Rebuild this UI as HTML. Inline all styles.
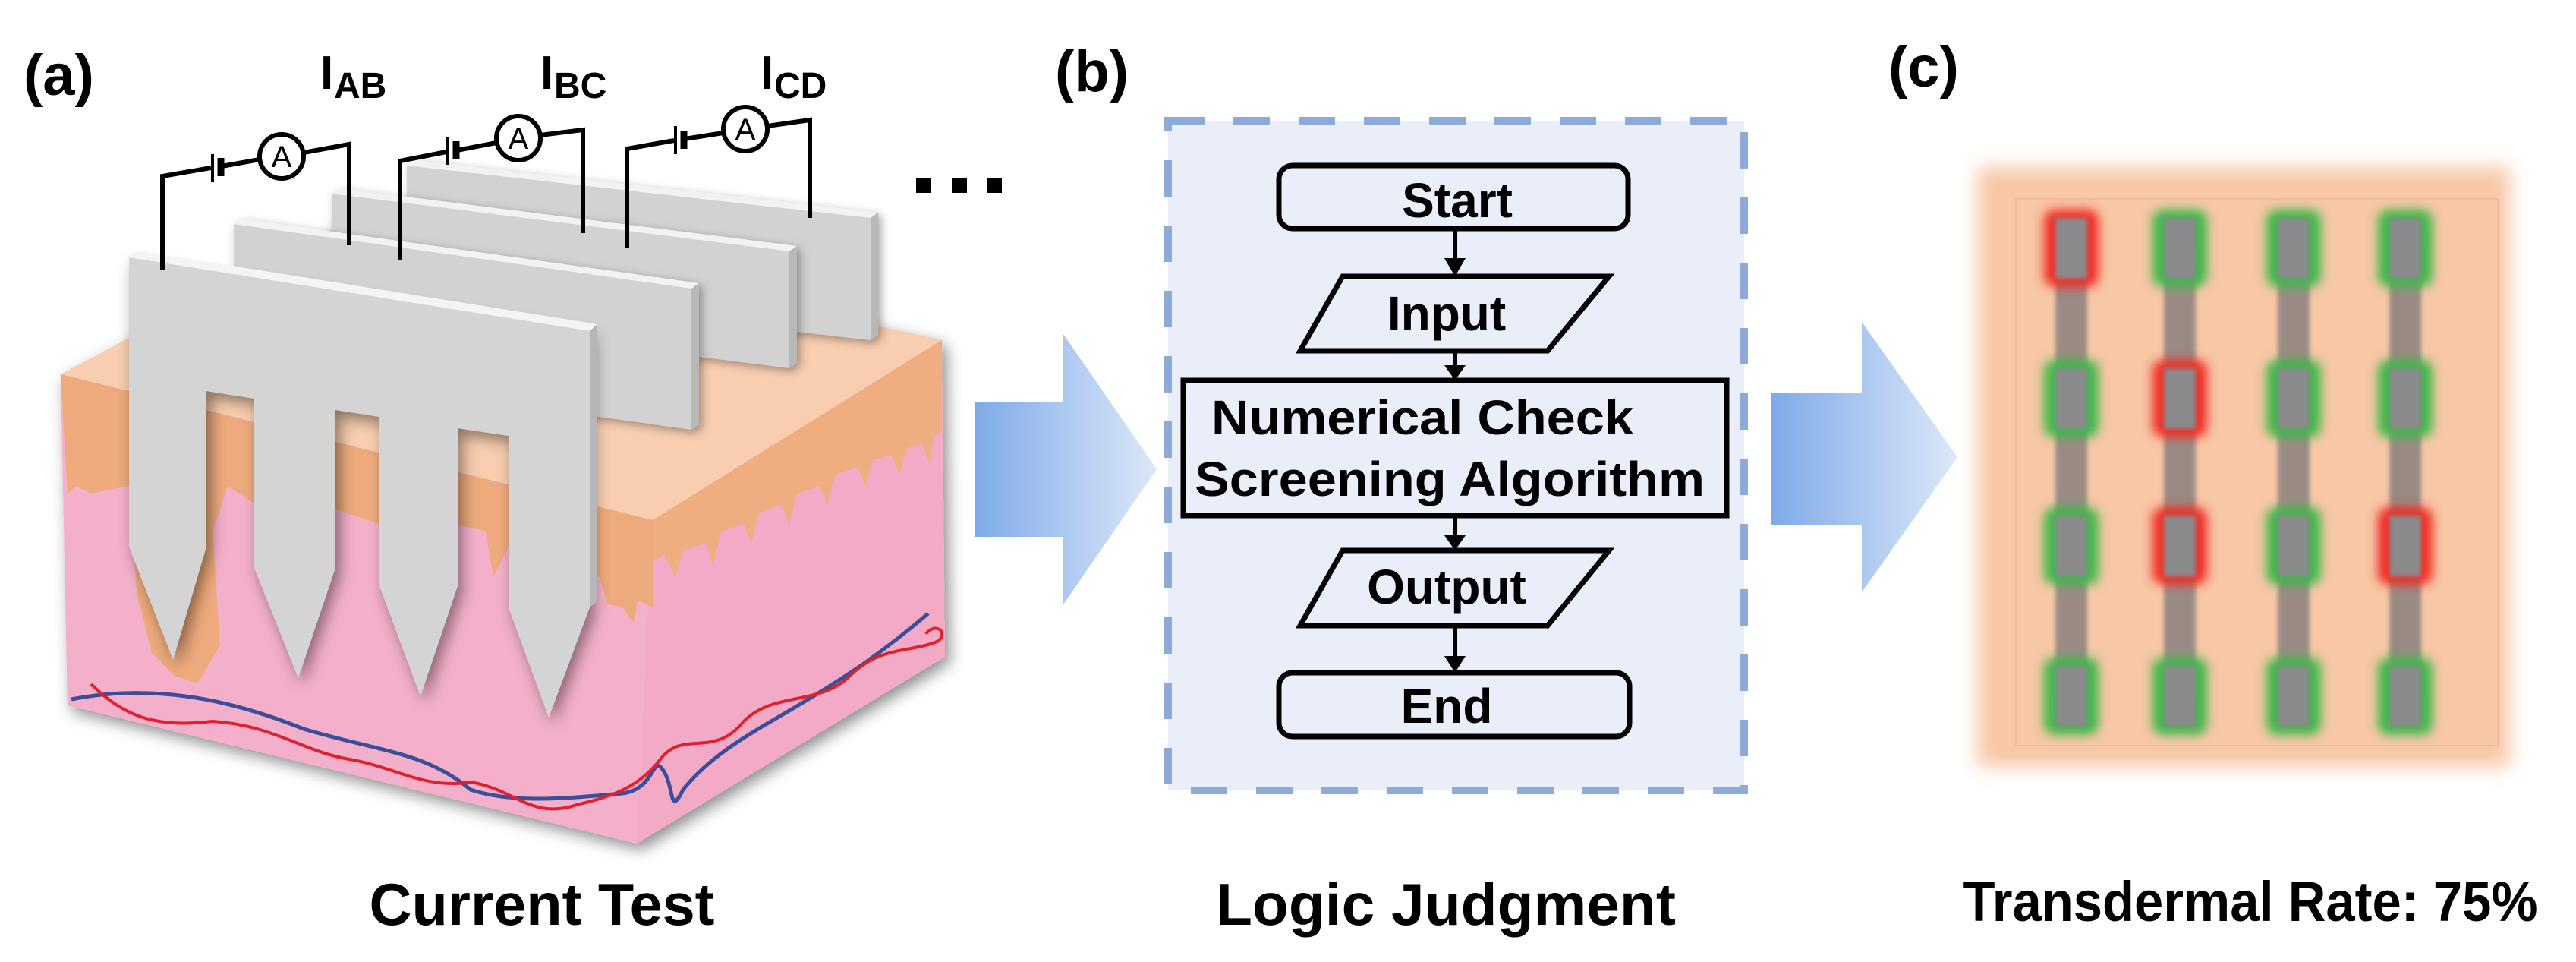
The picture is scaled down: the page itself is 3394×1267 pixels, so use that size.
<!DOCTYPE html>
<html><head><meta charset="utf-8"><style>
html,body{margin:0;padding:0;background:#fff;}
svg{display:block;}
text{font-family:"Liberation Sans",Arial,sans-serif;font-weight:bold;fill:#000;}
</style></head><body>
<svg width="3394" height="1267" viewBox="0 0 3394 1267" xmlns="http://www.w3.org/2000/svg">
<defs>
<filter id="sh" x="-20%" y="-20%" width="140%" height="140%"><feDropShadow dx="6" dy="8" stdDeviation="10" flood-color="#000" flood-opacity="0.45"/></filter>
<filter id="sh2" x="-20%" y="-20%" width="140%" height="140%"><feDropShadow dx="4" dy="4" stdDeviation="6" flood-color="#000" flood-opacity="0.35"/></filter>
<filter id="bl" x="-10%" y="-10%" width="120%" height="120%"><feGaussianBlur stdDeviation="12"/></filter>
<filter id="bl2" x="-50%" y="-50%" width="200%" height="200%"><feGaussianBlur stdDeviation="7"/></filter>
<filter id="bl3" x="-50%" y="-50%" width="200%" height="200%"><feGaussianBlur stdDeviation="3"/></filter>
<linearGradient id="ag" x1="0" x2="1" y1="0" y2="0"><stop offset="0" stop-color="#7eaae8"/><stop offset="1" stop-color="#dce8f8"/></linearGradient>
</defs>

<!-- Panel (a) -->
<text x="31" y="125" font-size="76">(a)</text>
<text x="422" y="117" font-size="62">I</text><text x="440" y="129" font-size="48">AB</text>
<text x="712" y="117" font-size="62">I</text><text x="730" y="129" font-size="48">BC</text>
<text x="1002" y="117" font-size="62">I</text><text x="1020" y="129" font-size="48">CD</text>
<rect x="1207" y="234" width="20" height="20" fill="#000"/>
<rect x="1254" y="234" width="20" height="20" fill="#000"/>
<rect x="1300" y="234" width="20" height="20" fill="#000"/>

<g filter="url(#sh)">
<polygon points="80,493 480,280 1241,448 1245,865 839,1111 89,929" fill="#f4b0cb"/>
</g>
<!-- top surface -->
<polygon points="80,493 480,280 1241,448 860,685" fill="#f8cdb0"/>
<!-- back plates -->
<g filter="url(#sh2)">
<polygon points="536,218 1147,287 1147,448 536,379" fill="#d2d2d2"/>
<polygon points="536,218 546,211 1157,280 1147,287" fill="#f2f2f2"/>
<polygon points="1147,287 1157,280 1157,441 1147,448" fill="#b8b8b8"/>
</g>
<g filter="url(#sh2)">
<polygon points="437,255 1040,331 1040,485 437,409" fill="#d2d2d2"/>
<polygon points="437,255 447,248 1050,324 1040,331" fill="#f2f2f2"/>
<polygon points="1040,331 1050,324 1050,478 1040,485" fill="#b8b8b8"/>
</g>
<g filter="url(#sh2)">
<polygon points="308,295 911,380 911,566 308,481" fill="#d2d2d2"/>
<polygon points="308,295 318,288 921,373 911,380" fill="#f2f2f2"/>
<polygon points="911,380 921,373 921,559 911,566" fill="#b8b8b8"/>
</g>
<!-- front face -->
<polygon points="80,493 860,685 839,1111 89,929" fill="#f4b0cb"/>
<!-- right face -->
<polygon points="860,685 1241,448 1245,865 839,1111" fill="#f2aac6"/>
<!-- orange on front face -->
<path d="M80,493 L860,685 L860,800 L840,790 L835,820 L820,800 L800,795 L790,760 L700,740 L670,720 L650,760 L640,700 L560,680 L520,700 L510,770 L500,690 L440,670 L420,720 L405,690 L330,660 L300,640 L280,700 L290,850 L260,900 L230,890 L200,860 L180,780 L170,640 L120,650 L100,640 L89,650 Z" fill="#eeaa7c"/>
<!-- orange on right face -->
<path d="M860,685 L1241,448 L1241,568 L1230,575 L1225,610 L1215,585 L1195,590 L1185,625 L1175,600 L1150,605 L1140,640 L1130,615 L1100,625 L1090,665 L1080,640 L1050,650 L1040,690 L1030,665 L1000,675 L990,715 L980,690 L950,700 L940,745 L930,715 L900,725 L890,760 L875,730 L860,740 Z" fill="#efad80"/>
<!-- vessels -->
<path d="M94,921 C200,900 300,920 400,960 C500,990 560,990 620,1040 C680,1060 760,1050 820,1045 C860,1040 860,1000 870,1010 C890,1030 880,1080 900,1040 C940,990 1000,960 1050,930 C1100,900 1150,870 1223,808" fill="none" stroke="#3a4e9a" stroke-width="5"/>
<path d="M120,901 C160,940 200,960 280,950 C360,955 400,990 460,1000 C520,1010 560,1040 620,1030 C680,1040 700,1080 760,1060 C800,1050 840,1040 870,1000 C900,960 940,1000 980,950 C1020,910 1080,930 1120,890 C1160,850 1200,860 1237,844 C1250,830 1230,820 1220,835" fill="none" stroke="#e0202a" stroke-width="4"/>
<!-- front plate -->
<g filter="url(#sh)">
<polygon points="170,339 777,436 777,800 723,945 670,800 670,574 603,564 603,772 554,917 500,772 500,549 442,540 442,748 393,893 335,748 335,525 272,515 272,720 228,869 170,720" fill="#d4d4d4"/>
</g>
<polygon points="170,339 180,330 787,427 777,436" fill="#f4f4f4"/>
<polygon points="777,436 787,427 787,792 777,800" fill="#b6b6b6"/>
<!-- wires -->
<g fill="none" stroke="#000" stroke-width="6">
<polyline points="214,355 214,232 278,221"/>
<polyline points="292,219 342,210"/>
<polyline points="400,201 460,190 460,323"/>
<polyline points="527,343 527,212 588,200"/>
<polyline points="602,198 654,188"/>
<polyline points="712,178 768,171 768,307"/>
<polyline points="826,327 826,196 888,185"/>
<polyline points="902,183 953,175"/>
<polyline points="1011,166 1067,158 1067,287"/>
</g>
<g stroke="#000">
<line x1="280" y1="203" x2="280" y2="240" stroke-width="4"/><line x1="291" y1="208" x2="291" y2="232" stroke-width="9"/>
<line x1="590" y1="180" x2="590" y2="217" stroke-width="4"/><line x1="601" y1="186" x2="601" y2="210" stroke-width="9"/>
<line x1="890" y1="166" x2="890" y2="203" stroke-width="4"/><line x1="901" y1="172" x2="901" y2="196" stroke-width="9"/>
</g>
<g fill="#fff" stroke="#000" stroke-width="6">
<circle cx="371" cy="206" r="29"/><circle cx="683" cy="182" r="29"/><circle cx="982" cy="170" r="29"/>
</g>
<g font-size="40" text-anchor="middle" style="font-weight:normal">
<text x="371" y="220" style="font-weight:normal">A</text><text x="683" y="196" style="font-weight:normal">A</text><text x="982" y="184" style="font-weight:normal">A</text>
</g>
<text x="714" y="1218" font-size="78" text-anchor="middle" textLength="455" lengthAdjust="spacingAndGlyphs">Current Test</text>

<!-- arrow 1 -->
<polygon points="1284,529 1401,529 1401,440 1524,618 1401,796 1401,707 1284,707" fill="url(#ag)"/>

<!-- Panel (b) -->
<text x="1390" y="120" font-size="76">(b)</text>
<rect x="1539" y="159" width="759" height="882" fill="#e9eef8" stroke="#8eaad8" stroke-width="10" stroke-dasharray="48,38"/>
<g fill="#e9eef8" stroke="#000" stroke-width="7">
<rect x="1685" y="218" width="460" height="83" rx="18"/>
<polygon points="1769,364 2120,364 2039,462 1713,462"/>
<rect x="1559" y="501" width="716" height="178"/>
<polygon points="1769,725 2120,725 2039,824 1713,824"/>
<rect x="1685" y="886" width="462" height="84" rx="18"/>
</g>
<g stroke="#000" stroke-width="6">
<line x1="1917" y1="301" x2="1917" y2="345"/>
<line x1="1917" y1="462" x2="1917" y2="484"/>
<line x1="1917" y1="679" x2="1917" y2="708"/>
<line x1="1917" y1="824" x2="1917" y2="867"/>
</g>
<g fill="#000">
<polygon points="1903,340 1931,340 1917,364"/>
<polygon points="1903,481 1931,481 1917,501"/>
<polygon points="1903,705 1931,705 1917,725"/>
<polygon points="1903,864 1931,864 1917,886"/>
</g>
<g font-size="64" text-anchor="middle">
<text x="1920" y="286">Start</text>
<text x="1906" y="435">Input</text>
<text x="1874" y="572" textLength="556" lengthAdjust="spacingAndGlyphs">Numerical Check</text>
<text x="1910" y="653" textLength="672" lengthAdjust="spacingAndGlyphs">Screening Algorithm</text>
<text x="1906" y="795">Output</text>
<text x="1906" y="952">End</text>
</g>
<text x="1905" y="1218" font-size="78" text-anchor="middle" textLength="606" lengthAdjust="spacingAndGlyphs">Logic Judgment</text>

<!-- arrow 2 -->
<polygon points="2333,517 2453,517 2453,424 2579,602 2453,780 2453,691 2333,691" fill="url(#ag)"/>

<!-- Panel (c) -->
<text x="2488" y="114" font-size="76">(c)</text>
<rect x="2605" y="220" width="702" height="790" fill="#f7c7a6" filter="url(#bl)"/>
<rect x="2656" y="262" width="635" height="720" fill="none" stroke="#eebc9c" stroke-width="2"/>
<g fill="#9a8a84" filter="url(#bl3)">
<rect x="2708" y="327" width="42" height="590"/>
<rect x="2851" y="327" width="42" height="590"/>
<rect x="3001" y="327" width="42" height="590"/>
<rect x="3148" y="327" width="42" height="590"/>
</g>
<g filter="url(#bl2)">
<rect x="2693" y="276" width="72" height="102" rx="14" fill="#f02a20"/>
<rect x="2836" y="276" width="72" height="102" rx="14" fill="#3db84a"/>
<rect x="2986" y="276" width="72" height="102" rx="14" fill="#3db84a"/>
<rect x="3133" y="276" width="72" height="102" rx="14" fill="#3db84a"/>
<rect x="2693" y="474" width="72" height="102" rx="14" fill="#3db84a"/>
<rect x="2836" y="474" width="72" height="102" rx="14" fill="#f02a20"/>
<rect x="2986" y="474" width="72" height="102" rx="14" fill="#3db84a"/>
<rect x="3133" y="474" width="72" height="102" rx="14" fill="#3db84a"/>
<rect x="2693" y="668" width="72" height="102" rx="14" fill="#3db84a"/>
<rect x="2836" y="668" width="72" height="102" rx="14" fill="#f02a20"/>
<rect x="2986" y="668" width="72" height="102" rx="14" fill="#3db84a"/>
<rect x="3133" y="668" width="72" height="102" rx="14" fill="#f02a20"/>
<rect x="2693" y="866" width="72" height="102" rx="14" fill="#3db84a"/>
<rect x="2836" y="866" width="72" height="102" rx="14" fill="#3db84a"/>
<rect x="2986" y="866" width="72" height="102" rx="14" fill="#3db84a"/>
<rect x="3133" y="866" width="72" height="102" rx="14" fill="#3db84a"/>
</g>
<g fill="#8a8a8c" filter="url(#bl3)">
<rect x="2708" y="287" width="42" height="80"/><rect x="2851" y="287" width="42" height="80"/><rect x="3001" y="287" width="42" height="80"/><rect x="3148" y="287" width="42" height="80"/>
<rect x="2708" y="485" width="42" height="80"/><rect x="2851" y="485" width="42" height="80"/><rect x="3001" y="485" width="42" height="80"/><rect x="3148" y="485" width="42" height="80"/>
<rect x="2708" y="679" width="42" height="80"/><rect x="2851" y="679" width="42" height="80"/><rect x="3001" y="679" width="42" height="80"/><rect x="3148" y="679" width="42" height="80"/>
<rect x="2708" y="877" width="42" height="80"/><rect x="2851" y="877" width="42" height="80"/><rect x="3001" y="877" width="42" height="80"/><rect x="3148" y="877" width="42" height="80"/>
</g>
<text x="2965" y="1213" font-size="74" text-anchor="middle" textLength="757" lengthAdjust="spacingAndGlyphs">Transdermal Rate: 75%</text>
</svg>
</body></html>
